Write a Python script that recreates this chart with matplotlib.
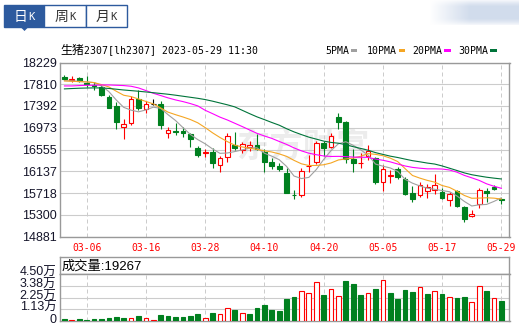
import numpy as np
import matplotlib
matplotlib.use('Agg')
import matplotlib.pyplot as plt
from matplotlib.patches import Rectangle, Polygon
from matplotlib.transforms import ScaledTranslation

# trading days 2023-03-01 .. 2023-05-29
dates = ['03-01', '03-02', '03-03', '03-06', '03-07', '03-08', '03-09', '03-10', '03-13', '03-14',
         '03-15', '03-16', '03-17', '03-20', '03-21', '03-22', '03-23', '03-24', '03-27', '03-28',
         '03-29', '03-30', '03-31', '04-03', '04-04', '04-06', '04-07', '04-10', '04-11', '04-12',
         '04-13', '04-14', '04-17', '04-18', '04-19', '04-20', '04-21', '04-24', '04-25', '04-26',
         '04-27', '04-28', '05-04', '05-05', '05-08', '05-09', '05-10', '05-11', '05-12', '05-15',
         '05-16', '05-17', '05-18', '05-19', '05-22', '05-23', '05-24', '05-25', '05-26', '05-29']

opens = [17951, 17887, 17932, 17836, 17800, 17759, 17567, 17394, 16985, 17074,
         17522, 17330, 17426, 17439, 16863, 16906, 16914, 16844, 16575, 16489,
         16511, 16255, 16402, 16639, 16543, 16607, 16639, 16511, 16319, 16242,
         16108, 15685, 15679, 16236, 16319, 16684, 16607, 17183, 17087, 16364,
         16290, 16434, 16383, 15922, 16050, 16178, 15986, 15711, 15679, 15762,
         15775, 15743, 15583, 15756, 15455, 15269, 15500, 15762, 15839, 15600]
highs = [17983, 17970, 17951, 17970, 17860, 17791, 17599, 17471, 17138, 17580,
         17695, 17484, 17522, 17484, 16985, 17068, 16991, 16876, 16620, 16562,
         16575, 16428, 16863, 16895, 16703, 16716, 16850, 16556, 16383, 16287,
         16191, 15775, 16191, 16447, 16722, 16722, 16876, 17266, 17100, 16562,
         16479, 16639, 16402, 16255, 16159, 16223, 16031, 15858, 15935, 15890,
         16082, 15820, 15743, 15775, 15474, 15391, 15807, 15820, 15871, 15621]
lows = [17887, 17855, 17855, 17759, 17700, 17580, 17362, 16959, 16748, 17036,
        17311, 17266, 17407, 16940, 16767, 16831, 16799, 16607, 16402, 16402,
        16191, 16114, 16306, 16543, 16479, 16524, 16543, 16127, 16178, 16140,
        15711, 15602, 15647, 16114, 16268, 16434, 16588, 16959, 16287, 16127,
        16204, 16351, 15884, 15762, 15903, 15986, 15679, 15538, 15647, 15615,
        15692, 15596, 15474, 15455, 15154, 15250, 15436, 15538, 15775, 15513]
closes = [17906, 17919, 17880, 17817, 17770, 17612, 17362, 17087, 17049, 17522,
          17362, 17426, 17426, 17023, 16927, 16900, 16863, 16748, 16447, 16498,
          16300, 16396, 16818, 16588, 16658, 16639, 16562, 16319, 16242, 16172,
          15724, 15679, 16146, 16242, 16684, 16575, 16818, 17087, 16370, 16303,
          16298, 16524, 15922, 16178, 16063, 16018, 15698, 15596, 15871, 15826,
          15871, 15615, 15698, 15474, 15212, 15314, 15775, 15711, 15794, 15589]
prev_close = 17960  # close before 03-01 (first volume bar is green)

volumes = [1926, 642, 1605, 963, 1605, 1605, 2568, 3531, 2568, 3210,
           4494, 2568, 963, 5457, 4815, 3531, 3852, 4494, 6420, 3210,
           7383, 6420, 12198, 10272, 7383, 6741, 12198, 15408, 10593, 9630,
           20865, 22791, 29211, 27285, 37878, 24717, 31137, 24396, 38199, 35310,
           24717, 26643, 30495, 39804, 26643, 20865, 29532, 27606, 33063, 25680,
           29211, 25680, 23433, 21828, 23433, 17976, 34026, 28569, 22470, 19267]

ma5 = [17881, 17874, 17868, 17855, 17843, 17780, 17669, 17507, 17366, 17312,
       17280, 17316, 17369, 17347, 17224, 17113, 16977, 16845, 16746, 16665,
       16566, 16481, 16488, 16515, 16547, 16584, 16588, 16484, 16427, 16359,
       16229, 16045, 15996, 16018, 16168, 16362, 16534, 16666, 16705, 16635,
       16549, 16449, 16275, 16234, 16200, 16134, 15981, 15907, 15853, 15811,
       15789, 15765, 15743, 15662, 15556, 15468, 15491, 15498, 15556, 15626]
ma10 = [17874, 17868, 17861, 17855, 17842, 17804, 17759, 17676, 17599, 17573,
        17527, 17480, 17432, 17354, 17273, 17225, 17181, 17132, 17069, 16977,
        16876, 16786, 16707, 16638, 16605, 16579, 16557, 16530, 16507, 16471,
        16423, 16346, 16280, 16247, 16248, 16261, 16296, 16354, 16373, 16389,
        16424, 16476, 16462, 16436, 16389, 16323, 16187, 16055, 16004, 15961,
        15927, 15862, 15825, 15752, 15671, 15617, 15620, 15626, 15619, 15601]
ma20 = [17778, 17778, 17785, 17791, 17791, 17797, 17797, 17791, 17785, 17772,
        17740, 17689, 17637, 17593, 17548, 17509, 17477, 17439, 17394, 17310,
        17245, 17178, 17123, 17060, 16997, 16931, 16866, 16815, 16769, 16710,
        16653, 16586, 16529, 16484, 16455, 16431, 16421, 16423, 16418, 16409,
        16406, 16403, 16371, 16348, 16317, 16276, 16238, 16211, 16195, 16183,
        16183, 16179, 16161, 16119, 16057, 16010, 15961, 15895, 15848, 15808]
ma30 = [17721, 17728, 17734, 17738, 17740, 17740, 17730, 17715, 17700, 17688,
        17676, 17662, 17648, 17633, 17618, 17600, 17580, 17560, 17540, 17516,
        17485, 17450, 17415, 17375, 17310, 17245, 17183, 17130, 17075, 17023,
        16955, 16894, 16842, 16793, 16755, 16717, 16691, 16676, 16647, 16609,
        16576, 16541, 16495, 16461, 16427, 16401, 16370, 16340, 16318, 16294,
        16275, 16239, 16195, 16151, 16105, 16070, 16045, 16022, 16004, 15988]

y_ticks = [18229, 17810, 17392, 16973, 16555, 16137, 15718, 15300, 14881]
vol_ticks = [0, 11250, 22500, 33750, 45000]
vol_tick_labels = ['0', '1.13万', '2.25万', '3.38万', '4.50万']
ma_names = ['5PMA', '10PMA', '20PMA', '30PMA']
ma_colors = ['#a0a0a0', '#f5a623', '#ff00ff', '#00743a']

RED = '#ff0000'
GREEN = '#00801f'
GRID = '#cccccc'
FRAME = '#999999'
BLUE = '#2d5a9e'
MONO = ['DejaVu Sans Mono', 'Noto Sans CJK SC']
SANS = ['Liberation Sans', 'Noto Sans CJK SC']
CJK = ['Noto Sans CJK SC', 'DejaVu Sans']

W, H = 519, 328
fig = plt.figure(figsize=(W / 100, H / 100), dpi=100)


def px_box(x0, y0, x1, y1):
    return [x0 / W, 1 - y1 / H, (x1 - x0) / W, (y1 - y0) / H]


# overlay in pixel coordinates for tabs / title / legend
over = fig.add_axes([0, 0, 1, 1])
over.axis('off')

# blurred logo patch top right (soft gradient)
gx = np.linspace(0, 1, 90)
gy = np.linspace(-1, 1, 26)
GX, GY = np.meshgrid(gx, gy)
alpha = np.clip(GX * 2.2, 0, 1) * np.clip(1.25 - GY ** 2, 0, 1)
blob = np.zeros((26, 90, 4))
blob[..., 0] = 0.80
blob[..., 1] = 0.85
blob[..., 2] = 0.92
blob[..., 3] = alpha * 0.9
over.imshow(blob, extent=(429, 519, 25, 0), aspect='auto', interpolation='bilinear')
over.set_xlim(0, W)
over.set_ylim(H, 0)

# tabs
tabs = [('日', 4, 44, 20, 31), ('周', 44, 86, 61, 72), ('月', 86, 127, 102.5, 113.5)]
for k, (ch, x0, x1, cx, kx) in enumerate(tabs):
    sel = k == 0
    over.add_patch(Rectangle((x0, 5), x1 - x0, 22, facecolor=BLUE if sel else 'white',
                             edgecolor=BLUE, lw=1))
    tc = 'white' if sel else '#333333'
    over.text(cx, 16.5, ch, family=CJK, fontsize=10, color=tc, ha='center', va='center')
    over.text(kx, 17, 'K', family=MONO, fontsize=7.6, color=tc, ha='center', va='center')
over.add_patch(Polygon([(20.5, 27), (28.5, 27), (24.5, 31)], color=BLUE, lw=0))

# title
over.text(60, 50.5, '生猪', family=CJK, fontsize=8.6, ha='left', va='center')
over.text(83.5, 50.5, '2307[lh2307] 2023-05-29 11:30', family=MONO, fontsize=7.15,
          ha='left', va='center')

# legend
leg_x = [325, 367, 412.7, 458.7]
for name, colr, lx in zip(ma_names, ma_colors, leg_x):
    over.text(lx, 50.5, name, family=MONO, fontsize=7.15, ha='left', va='center')
    rx = lx + 6 * len(name) + 1.5
    over.add_patch(Rectangle((rx, 49), 6.6, 2.6, color=colr, lw=0))

x = np.arange(len(dates))
o = np.array(opens)
h = np.array(highs)
l = np.array(lows)
c = np.array(closes)

# main price panel
ax = fig.add_axes(px_box(60, 62.5, 509.5, 236.5))
ax.set_xlim(-0.6, 60.1)
ax.set_ylim(14881, 18229)
for s in ax.spines.values():
    s.set_color(FRAME)
    s.set_linewidth(1)
ax.set_axisbelow(True)
ax.grid(axis='y', color=GRID, lw=0.8, ls='-')
ax.grid(axis='x', color=GRID, lw=0.72, ls=(0, (4, 3)))
ax.set_yticks(y_ticks)
ax.set_yticklabels([str(v) for v in y_ticks], family=SANS, fontsize=9, color='#15152a')
ax.set_xticks(x[3::8])
ax.set_xticklabels(dates[3::8], family=MONO, fontsize=7, color=RED)
ax.tick_params(axis='y', length=0, pad=2.5)
ax.tick_params(axis='x', length=0, pad=5)

ax.text(236, 148, '东方财富', transform=over.transData, family=CJK, fontsize=24,
        fontweight='bold', color='#ececec', ha='left', va='center', zorder=0.3)

col = np.where(c > o, RED, np.where(c < o, GREEN, '#000000'))
face = np.where(c > o, 'white', col)
ax.vlines(x, l, h, colors=col, lw=0.8, zorder=2)
ax.bar(x, np.abs(c - o), bottom=np.minimum(o, c), width=0.64, color=face,
       edgecolor=col, lw=0.8, zorder=3)
for ma, colr in zip([ma5, ma10, ma20, ma30], ma_colors):
    ax.plot(x, ma, color=colr, lw=0.8, zorder=4)

# volume header
hax = fig.add_axes(px_box(60, 257, 509.5, 274.3))
hax.set_xticks([])
hax.set_yticks([])
for s in hax.spines.values():
    s.set_color(FRAME)
    s.set_linewidth(1)
hax.text(0.004, 0.45, '成交量:' + str(volumes[-1]), transform=hax.transAxes,
         family=SANS, fontsize=9.5, ha='left', va='center')

# volume panel
vax = fig.add_axes(px_box(60, 274.3, 509.5, 321))
vax.set_xlim(-0.6, 60.1)
vax.set_ylim(0, 45000)
for s in vax.spines.values():
    s.set_color(FRAME)
    s.set_linewidth(1)
vax.set_axisbelow(True)
vax.grid(axis='y', color=GRID, lw=0.8, ls='-')
vax.grid(axis='x', color=GRID, lw=0.72, ls=(0, (4, 3)))
vax.set_xticks(x[3::8])
vax.set_xticklabels([])
vax.set_yticks(vol_ticks)
vax.set_yticklabels(vol_tick_labels, family=SANS, fontsize=9, color='#15152a')
vax.tick_params(axis='both', length=0)
vax.tick_params(axis='y', pad=2.5)
shift = ScaledTranslation(0, 2.5 / 100, fig.dpi_scale_trans)
for lab in vax.get_yticklabels():
    lab.set_transform(lab.get_transform() + shift)

prev = np.concatenate([[prev_close], c[:-1]])
vup = c >= prev
vcol = np.where(vup, RED, GREEN)
vface = np.where(vup, 'white', GREEN)
vax.bar(x, volumes, width=0.64, color=vface, edgecolor=vcol, lw=0.8, zorder=3)

fig.savefig('out.png', dpi=100)
